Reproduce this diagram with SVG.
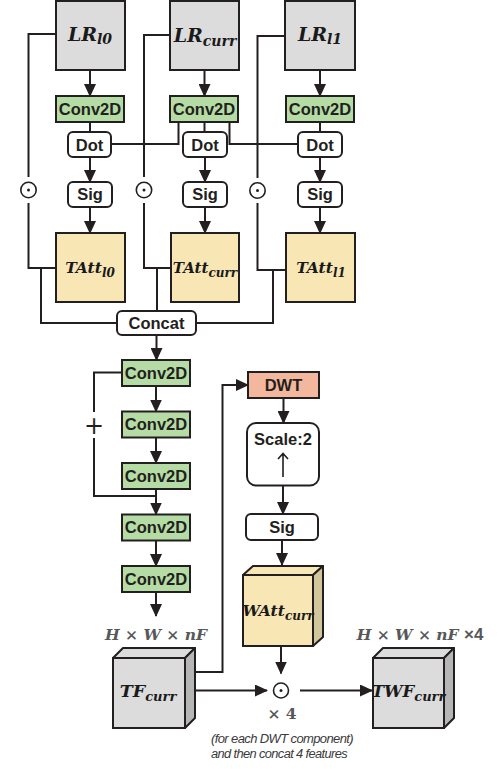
<svg xmlns="http://www.w3.org/2000/svg" width="498" height="769" viewBox="0 0 498 769">
<style>
.bx{stroke:#231f20;stroke-width:2}
.gray{fill:#dcdcdc}
.grayd{fill:#b6b6b6}
.green{fill:#b5dca4}
.yellow{fill:#f8e6b5}
.yellowd{fill:#d2c69c}
.salmon{fill:#f3b79d}
.white{fill:#fff}
.lbl{font-family:"Liberation Sans",Arial,sans-serif;font-weight:bold;font-size:16.5px;fill:#231f20;text-anchor:middle}
.math{font-family:"DejaVu Serif",serif;font-weight:bold;font-style:italic;fill:#1a1a1a;text-anchor:middle}
.conn{fill:none;stroke:#231f20;stroke-width:2}
.arr{marker-end:url(#ah)}
.op{fill:#fff;stroke:#231f20;stroke-width:1.6}
.opd{fill:#231f20}
.dim{font-family:"DejaVu Serif",serif;font-weight:bold;font-style:italic;fill:#58585a;text-anchor:middle}
.note{font-family:"Liberation Sans",Arial,sans-serif;font-style:italic;font-size:12.5px;fill:#3a3a3a;text-anchor:middle;letter-spacing:-0.6px}
</style>
<defs>
<marker id="ah" markerUnits="userSpaceOnUse" markerWidth="13" markerHeight="12" refX="12" refY="6" orient="auto">
<path d="M0,0 L13,6 L0,12 z" fill="#231f20"/>
</marker>
</defs>

<g id="connectors">
<path class="conn arr" d="M90,70 V96"/>
<path class="conn arr" d="M204.5,70 V96"/>
<path class="conn arr" d="M320,70 V96"/>
<path class="conn" d="M90,122 V132"/>
<path class="conn" d="M204.5,122 V132"/>
<path class="conn" d="M320,122 V132"/>
<path class="conn arr" d="M90,157 V182"/>
<path class="conn arr" d="M205,157 V182"/>
<path class="conn arr" d="M320,157 V182"/>
<path class="conn arr" d="M90,207 V233"/>
<path class="conn arr" d="M205,207 V233"/>
<path class="conn arr" d="M320,207 V233"/>
<path class="conn" d="M111,144 H178.5 V122"/>
<path class="conn" d="M229.5,122 V144 H298"/>
<path class="conn" d="M56,34 H28.5 V177"/>
<path class="conn" d="M28.5,203 V268 H56"/>
<path class="conn" d="M41,268 V323 H117"/>
<path class="conn" d="M170,35 H144 V177"/>
<path class="conn" d="M144,203 V268 H171"/>
<path class="conn" d="M157,268 V311"/>
<path class="conn" d="M285,36 H257.5 V178"/>
<path class="conn" d="M257.5,203 V270 H286"/>
<path class="conn" d="M273,270 V323 H196"/>
<path class="conn arr" d="M156.5,335 V360"/>
<path class="conn arr" d="M156,386 V411.5"/>
<path class="conn arr" d="M156,437.5 V463"/>
<path class="conn arr" d="M156,489 V514.5"/>
<path class="conn arr" d="M156,540.5 V566"/>
<path class="conn arr" d="M156,592 V616"/>
<path class="conn" d="M122,372.5 H94 V412"/>
<path class="conn" d="M94,438 V496 H156"/>
<path class="conn arr" d="M195,672 H222.5 V385 H248"/>
<path class="conn arr" d="M283.5,398 V423"/>
<path class="conn arr" d="M283,485.5 V514"/>
<path class="conn arr" d="M282,540 V565"/>
<path class="conn arr" d="M281,646 V673.5"/>
<path class="conn arr" d="M195,690.5 H267"/>
<path class="conn arr" d="M300,690.5 H372"/>
</g>

<g id="LR_l0">
<rect class="bx gray" x="56" y="1" width="69" height="69"/>
<text class="math" x="90" y="41" font-size="19">LR<tspan font-size="14" dy="3">l0</tspan></text>
</g>
<g id="LR_curr">
<rect class="bx gray" x="170" y="1" width="69" height="69"/>
<text class="math" x="205" y="41.5" font-size="19">LR<tspan font-size="14" dy="4">curr</tspan></text>
</g>
<g id="LR_l1">
<rect class="bx gray" x="285" y="1" width="70" height="69"/>
<text class="math" x="320" y="41" font-size="19">LR<tspan font-size="14" dy="3">l1</tspan></text>
</g>

<g id="Conv2D_l0"><rect class="bx green" x="56" y="96" width="68" height="26"/><text class="lbl" x="90" y="114.5">Conv2D</text></g>
<g id="Conv2D_curr"><rect class="bx green" x="170" y="96" width="68" height="26"/><text class="lbl" x="204" y="114.5">Conv2D</text></g>
<g id="Conv2D_l1"><rect class="bx green" x="286" y="96" width="68" height="26"/><text class="lbl" x="320" y="114.5">Conv2D</text></g>

<g id="Dot_l0"><rect class="bx white" x="68" y="132" width="43" height="25" rx="5"/><text class="lbl" x="89.5" y="150.5">Dot</text></g>
<g id="Dot_curr"><rect class="bx white" x="183" y="132" width="44" height="25" rx="5"/><text class="lbl" x="205" y="150.5">Dot</text></g>
<g id="Dot_l1"><rect class="bx white" x="298" y="132" width="44" height="25" rx="5"/><text class="lbl" x="320" y="150.5">Dot</text></g>

<g id="Sig_l0"><rect class="bx white" x="68" y="182" width="44" height="25" rx="5"/><text class="lbl" x="90" y="200">Sig</text></g>
<g id="Sig_curr"><rect class="bx white" x="183" y="182" width="44" height="25" rx="5"/><text class="lbl" x="205" y="200">Sig</text></g>
<g id="Sig_l1"><rect class="bx white" x="298" y="182" width="44" height="25" rx="5"/><text class="lbl" x="320" y="200">Sig</text></g>

<g id="odot_l0"><circle class="op" cx="28.5" cy="190" r="7.7"/><circle class="opd" cx="28.5" cy="190" r="1.5"/></g>
<g id="odot_curr"><circle class="op" cx="144" cy="190" r="7.7"/><circle class="opd" cx="144" cy="190" r="1.5"/></g>
<g id="odot_l1"><circle class="op" cx="257.5" cy="190.5" r="7.7"/><circle class="opd" cx="257.5" cy="190.5" r="1.5"/></g>

<g id="TAtt_l0"><rect class="bx yellow" x="56" y="233" width="69" height="69"/><text class="math" x="90" y="273" font-size="15.5">TAtt<tspan font-size="12" dy="4">l0</tspan></text></g>
<g id="TAtt_curr"><rect class="bx yellow" x="171" y="233" width="68" height="69"/><text class="math" x="205" y="273" font-size="15">TAtt<tspan font-size="12" dy="4">curr</tspan></text></g>
<g id="TAtt_l1"><rect class="bx yellow" x="286" y="233" width="69" height="69"/><text class="math" x="321" y="273" font-size="15.5">TAtt<tspan font-size="12" dy="4">l1</tspan></text></g>

<g id="Concat"><rect class="bx white" x="117" y="311" width="79" height="24" rx="5"/><text class="lbl" x="156.5" y="328.5">Concat</text></g>

<g id="Conv2D_1"><rect class="bx green" x="122" y="360" width="68" height="26"/><text class="lbl" x="156" y="378.5">Conv2D</text></g>
<g id="Conv2D_2"><rect class="bx green" x="122" y="411.5" width="68" height="26"/><text class="lbl" x="156" y="430">Conv2D</text></g>
<g id="Conv2D_3"><rect class="bx green" x="122" y="463" width="68" height="26"/><text class="lbl" x="156" y="481.5">Conv2D</text></g>
<g id="Conv2D_4"><rect class="bx green" x="122" y="514.5" width="68" height="26"/><text class="lbl" x="156" y="533">Conv2D</text></g>
<g id="Conv2D_5"><rect class="bx green" x="122" y="566" width="68" height="26"/><text class="lbl" x="156" y="584.5">Conv2D</text></g>
<g id="plus"><text x="94" y="434" font-family="DejaVu Sans,sans-serif" font-size="24" fill="#231f20" text-anchor="middle">+</text></g>

<g id="DWT"><rect class="bx salmon" x="248" y="372" width="71" height="26"/><text class="lbl" x="283.5" y="390.5">DWT</text></g>
<g id="Scale2">
<rect class="bx white" x="247" y="423" width="72" height="62.5" rx="9"/>
<text class="lbl" x="283" y="445">Scale:2</text>
<path d="M283,477 V454 M278,459 L283,453.5 L288,459" fill="none" stroke="#231f20" stroke-width="1.6"/>
</g>
<g id="Sig_w"><rect class="bx white" x="246" y="514" width="72" height="26" rx="5"/><text class="lbl" x="282" y="532.5">Sig</text></g>

<g id="WAtt_curr">
<polygon class="bx yellow" points="243,575 253,566 323,566 313,575" stroke-linejoin="round"/>
<polygon class="bx yellowd" points="313,575 323,566 323,637 313,646" stroke-linejoin="round"/>
<rect class="bx yellow" x="243" y="575" width="70" height="71"/>
<text class="math" x="278" y="616" font-size="15.5">WAtt<tspan font-size="12" dy="4">curr</tspan></text>
</g>

<g id="TF_curr">
<polygon class="bx gray" points="113,658 123,648 195,648 185,658" stroke-linejoin="round"/>
<polygon class="bx grayd" points="185,658 195,648 195,718 185,728" stroke-linejoin="round"/>
<rect class="bx gray" x="113" y="658" width="72" height="70"/>
<text class="math" x="148" y="697" font-size="17.5">TF<tspan font-size="13" dy="4">curr</tspan></text>
<text class="dim" x="156" y="640" font-size="15.5">H × W × nF</text>
</g>

<g id="odot_w"><circle class="op" cx="281" cy="690.5" r="7.5"/><circle class="opd" cx="281" cy="690.5" r="1.5"/>
<text x="282" y="719" font-family="DejaVu Serif,serif" font-weight="bold" font-size="15.5" fill="#58585a" text-anchor="middle">× 4</text>
<text class="note" x="282" y="743" textLength="142" lengthAdjust="spacingAndGlyphs">(for each DWT component)</text>
<text class="note" x="279" y="758" textLength="136" lengthAdjust="spacingAndGlyphs">and then concat 4 features</text>
</g>

<g id="TWF_curr">
<polygon class="bx gray" points="373,658 383,648 454,648 444,658" stroke-linejoin="round"/>
<polygon class="bx grayd" points="444,658 454,648 454,718 444,728" stroke-linejoin="round"/>
<rect class="bx gray" x="373" y="658" width="71" height="70"/>
<text class="math" x="408.5" y="697" font-size="16.5">TWF<tspan font-size="13" dy="4">curr</tspan></text>
<text class="dim" x="420" y="640" font-size="15.5">H × W × nF <tspan font-family="Liberation Sans,sans-serif" font-style="normal" font-size="17">×4</tspan></text>
</g>
</svg>
